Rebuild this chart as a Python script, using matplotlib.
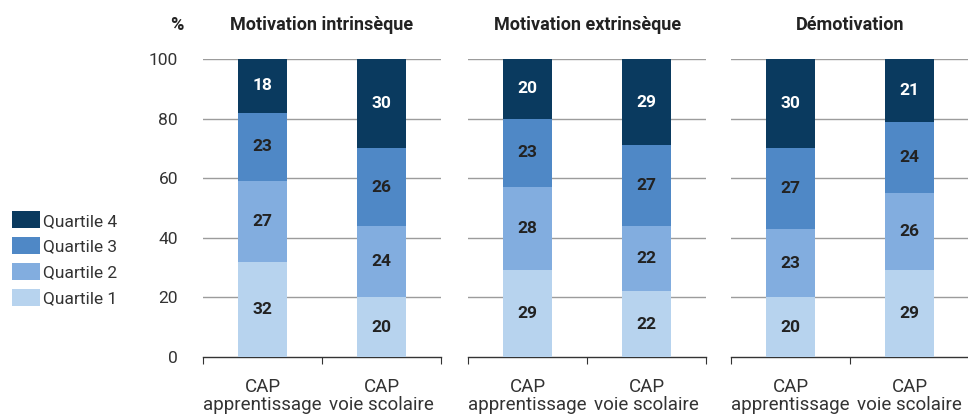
import matplotlib
matplotlib.use("Agg")
import matplotlib.pyplot as plt
from matplotlib.patches import Patch
import numpy as np

plt.rcParams['font.family'] = ['Roboto', 'DejaVu Sans']

# Data
panels = ["Motivation intrinsèque", "Motivation extrinsèque", "Démotivation"]
categories = ["CAP\napprentissage", "CAP\nvoie scolaire"]
quartiles = ["Quartile 1", "Quartile 2", "Quartile 3", "Quartile 4"]
# values[panel][quartile] -> [apprentissage, voie scolaire]
intrinseque = [[32, 20], [27, 24], [23, 26], [18, 30]]
extrinseque = [[29, 22], [28, 22], [23, 27], [20, 29]]
demotivation = [[20, 29], [23, 26], [27, 24], [30, 21]]
values = [intrinseque, extrinseque, demotivation]

colors = ["#b7d3ee", "#82addf", "#4f88c6", "#0a3a5f"]
text_colors = ["#222222", "#222222", "#222222", "#ffffff"]

fig = plt.figure(figsize=(9.68, 4.15), dpi=100)

lefts = [0.2097, 0.4835, 0.7552]
width = 0.246
bottom = 0.140
height = 0.718

x = np.array([0.5, 1.5])
for i, (title, vals) in enumerate(zip(panels, values)):
    ax = fig.add_axes([lefts[i], bottom, width, height])
    base = np.zeros(2)
    for q in range(4):
        v = np.array(vals[q])
        ax.bar(x, v, width=0.41, bottom=base, color=colors[q], zorder=3)
        for xi, vi, bi in zip(x, v, base):
            ax.text(xi, bi + vi / 2, str(vi), ha='center', va='center',
                    fontsize=12.5, fontweight='bold', color=text_colors[q], zorder=4)
        base += v
    ax.set_xlim(0, 2)
    ax.set_ylim(0, 100)
    ax.yaxis.grid(True, color='#9c9c9c', linewidth=1.0, zorder=0)
    ax.set_axisbelow(True)
    for s in ['top', 'right', 'left']:
        ax.spines[s].set_visible(False)
    ax.spines['bottom'].set_color('#333333')
    ax.spines['bottom'].set_linewidth(1.0)
    ax.set_xticks([0, 1, 2], minor=False)
    ax.set_xticklabels([])
    ax.tick_params(axis='x', which='major', length=5, color='#333333', direction='out')
    ax.set_xticks(x, minor=True)
    ax.set_xticklabels(categories, minor=True, fontsize=13.5, color='#333333',
                       linespacing=1.0)
    ax.tick_params(axis='x', which='minor', length=0, pad=15)
    ax.tick_params(axis='y', length=0)
    ax.set_yticks([0, 20, 40, 60, 80, 100])
    if i == 0:
        ax.set_yticklabels(["0", "20", "40", "60", "80", "100"], fontsize=12.5,
                           color='#333333')
        ax.tick_params(axis='y', pad=18)
    else:
        ax.set_yticklabels([])
    ax.yaxis.get_gridlines()[0].set_visible(False)
    ax.set_title(title, fontsize=13, fontweight='bold', color='#222222', pad=21)

fig.text(0.190, 0.927, "%", ha='right', va='baseline', fontsize=13,
         fontweight='bold', color='#222222')

handles = [Patch(facecolor=colors[q], edgecolor='none') for q in [3, 2, 1, 0]]
labels = [quartiles[q] for q in [3, 2, 1, 0]]
fig.legend(handles, labels, loc='center left', bbox_to_anchor=(0.0, 0.376),
           frameon=False, fontsize=12.5, handlelength=1.6, handleheight=1.1,
           handletextpad=0.2, labelspacing=0.5, borderaxespad=0.3,
           labelcolor='#333333')

fig.savefig("out.png", dpi=100)
